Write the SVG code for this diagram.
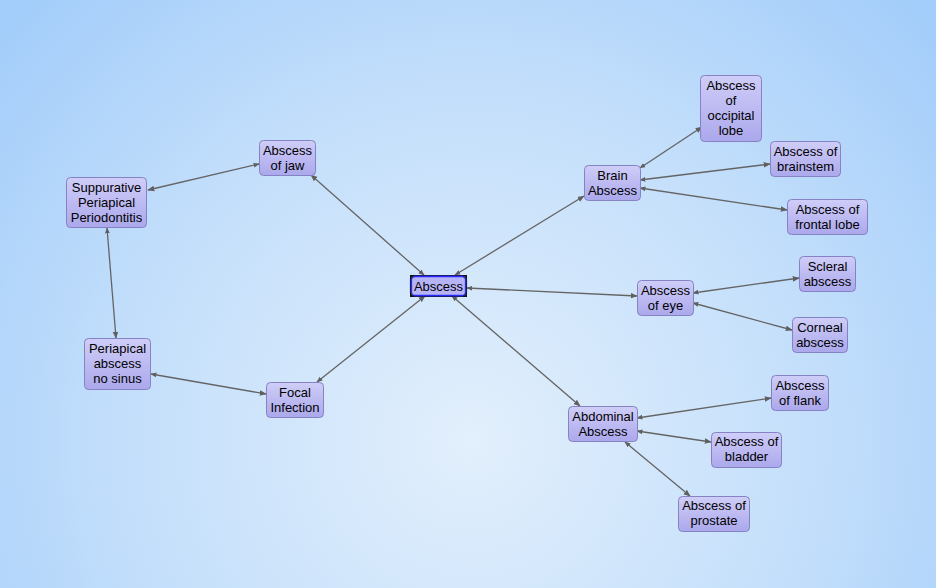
<svg xmlns="http://www.w3.org/2000/svg" width="936" height="588" viewBox="0 0 936 588">
<defs>
<radialGradient id="bg" cx="470" cy="440" r="620" gradientUnits="userSpaceOnUse">
<stop offset="0" stop-color="#e2effc"/>
<stop offset="0.55" stop-color="#c4dffb"/>
<stop offset="1" stop-color="#a3cdfa"/>
</radialGradient>
<linearGradient id="nf" x1="0" y1="0" x2="0" y2="1">
<stop offset="0" stop-color="#cfcdf8"/>
<stop offset="1" stop-color="#aba8ec"/>
</linearGradient>
<marker id="ah" viewBox="0 0 10 10" refX="9" refY="5" markerWidth="7" markerHeight="7" markerUnits="userSpaceOnUse" orient="auto">
<path d="M0,1 L10,5 L0,9 z" fill="#5f5f5f"/>
</marker>
<marker id="as" viewBox="0 0 10 10" refX="1" refY="5" markerWidth="6" markerHeight="6" markerUnits="userSpaceOnUse" orient="auto">
<path d="M10,1 L0,5 L10,9 z" fill="#5f5f5f"/>
</marker>
</defs>
<style>
.n rect{fill:url(#nf);stroke:#8583c4;stroke-width:1}
.n text{font-family:"Liberation Sans",Arial,sans-serif;font-size:13px;fill:#000;text-anchor:middle}
.e line{stroke:#646464;stroke-width:1.3;marker-end:url(#ah);marker-start:url(#as)}
</style>
<rect width="936" height="588" fill="url(#bg)"/>
<g id="edges" class="e">
<line x1="424" y1="275" x2="311" y2="175"/>
<line x1="259" y1="164" x2="148" y2="190"/>
<line x1="107" y1="228" x2="116" y2="338"/>
<line x1="151" y1="374" x2="266" y2="394"/>
<line x1="317" y1="382" x2="425" y2="296"/>
<line x1="455" y1="275" x2="584" y2="196"/>
<line x1="467" y1="288" x2="637" y2="296"/>
<line x1="452" y1="296" x2="580" y2="406"/>
<line x1="640" y1="168" x2="702" y2="127"/>
<line x1="640" y1="180" x2="770" y2="164"/>
<line x1="640" y1="188" x2="787" y2="210"/>
<line x1="693" y1="293" x2="799" y2="278"/>
<line x1="693" y1="303" x2="792" y2="330"/>
<line x1="637" y1="418" x2="771" y2="398"/>
<line x1="637" y1="431" x2="711" y2="442"/>
<line x1="625" y1="442" x2="690" y2="496"/>
</g>
<g id="n-abscess" class="n">
<rect x="410.5" y="275.5" width="56" height="21" rx="4" style="stroke:#1a1a40;stroke-width:1.2;fill:#b6b4f6"/>
<rect x="411.5" y="276.5" width="54" height="19" rx="3.5" style="stroke:#2a2aff;stroke-width:1.3;fill:#b6b4f6"/>
<path d="M410,275h4v1.5h-2.5v2.5h-1.5z M467,275h-4v1.5h2.5v2.5h1.5z M410,297h4v-1.5h-2.5v-2.5h-1.5z M467,297h-4v-1.5h2.5v-2.5h1.5z" fill="#111"/>
<text x="438.5" y="290.5">Abscess</text>
</g>
<g id="n-jaw" class="n">
<rect x="259.5" y="140.5" width="56" height="35" rx="4"/>
<text x="287.5" y="155">Abscess</text>
<text x="287.5" y="170">of jaw</text>
</g>
<g id="n-supp" class="n">
<rect x="66.5" y="177.5" width="80" height="50" rx="4"/>
<text x="106.5" y="191.5">Suppurative</text>
<text x="106.5" y="206.5">Periapical</text>
<text x="106.5" y="221.5">Periodontitis</text>
</g>
<g id="n-peri" class="n">
<rect x="84.5" y="338.5" width="66" height="51" rx="4"/>
<text x="117.5" y="353">Periapical</text>
<text x="117.5" y="368">abscess</text>
<text x="117.5" y="383">no sinus</text>
</g>
<g id="n-focal" class="n">
<rect x="266.5" y="382.5" width="57" height="35" rx="4"/>
<text x="295" y="397">Focal</text>
<text x="295" y="412">Infection</text>
</g>
<g id="n-brain" class="n">
<rect x="584.5" y="165.5" width="56" height="35" rx="4"/>
<text x="612.5" y="179.5">Brain</text>
<text x="612.5" y="194.5">Abscess</text>
</g>
<g id="n-occ" class="n">
<rect x="700.5" y="75.5" width="61" height="66" rx="4"/>
<text x="731" y="89.5">Abscess</text>
<text x="731" y="104.5">of</text>
<text x="731" y="119.5">occipital</text>
<text x="731" y="134.5">lobe</text>
</g>
<g id="n-stem" class="n">
<rect x="770.5" y="141.5" width="70" height="35" rx="4"/>
<text x="805.5" y="155.5">Abscess of</text>
<text x="805.5" y="170.5">brainstem</text>
</g>
<g id="n-front" class="n">
<rect x="787.5" y="199.5" width="80" height="35" rx="4"/>
<text x="827.5" y="213.5">Abscess of</text>
<text x="827.5" y="228.5">frontal lobe</text>
</g>
<g id="n-eye" class="n">
<rect x="637.5" y="280.5" width="56" height="35" rx="4"/>
<text x="665.5" y="294.5">Abscess</text>
<text x="665.5" y="309.5">of eye</text>
</g>
<g id="n-scl" class="n">
<rect x="799.5" y="256.5" width="56" height="35" rx="4"/>
<text x="827.5" y="270.5">Scleral</text>
<text x="827.5" y="285.5">abscess</text>
</g>
<g id="n-corn" class="n">
<rect x="792.5" y="317.5" width="55" height="35" rx="4"/>
<text x="820" y="331.5">Corneal</text>
<text x="820" y="346.5">abscess</text>
</g>
<g id="n-abd" class="n">
<rect x="568.5" y="406.5" width="69" height="35" rx="4"/>
<text x="603" y="420.5">Abdominal</text>
<text x="603" y="435.5">Abscess</text>
</g>
<g id="n-flank" class="n">
<rect x="771.5" y="375.5" width="57" height="35" rx="4"/>
<text x="800" y="389.5">Abscess</text>
<text x="800" y="404.5">of flank</text>
</g>
<g id="n-blad" class="n">
<rect x="711.5" y="432.5" width="70" height="35" rx="4"/>
<text x="746.5" y="446">Abscess of</text>
<text x="746.5" y="461">bladder</text>
</g>
<g id="n-prost" class="n">
<rect x="678.5" y="496.5" width="71" height="35" rx="4"/>
<text x="714" y="510">Abscess of</text>
<text x="714" y="525">prostate</text>
</g>
</svg>
